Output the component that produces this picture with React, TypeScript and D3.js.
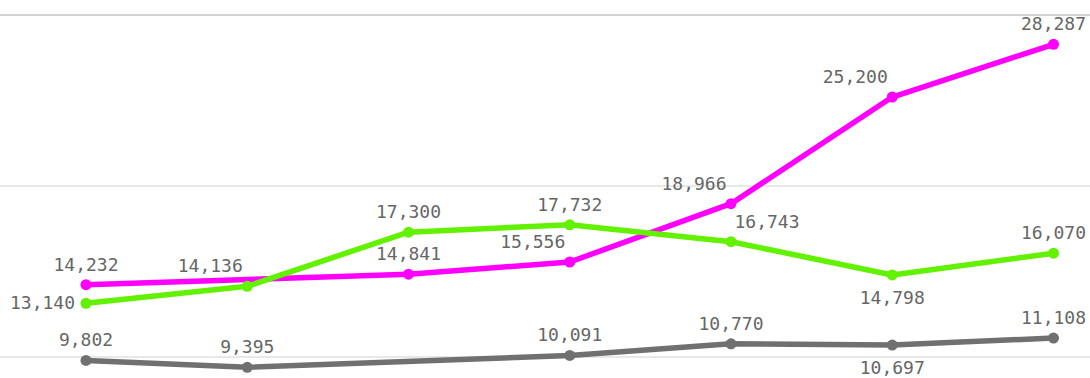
import React from "react";
import * as d3 from "d3";

const categories = ["P1", "P2", "P3", "P4", "P5", "P6", "P7"];
const magentaValues: (number | null)[] = [14232, null, 14841, 15556, 18966, 25200, 28287];
const greenValues: (number | null)[] = [13140, 14136, 17300, 17732, 16743, 14798, 16070];
const grayValues: (number | null)[] = [9802, 9395, null, 10091, 10770, 10697, 11108];
const gridTicks = [10000, 20000, 30000];

// label placement per point
const magentaPlace = ["above", "none", "above", "leftAbove", "leftAbove", "leftAbove", "above"];
const greenPlace = ["left", "leftAbove", "above", "above", "rightAbove", "below", "above"];
const grayPlace = ["above", "above", "none", "above", "above", "below", "above"];

const W = 1090;
const H = 378;

const x = d3.scalePoint<string>().domain(categories).range([86, 1053.5]);
const y = d3.scaleLinear().domain([10000, 30000]).range([357, 15]);
const fmt = d3.format(",");

type S = { values: (number | null)[]; color: string; place: string[] };
const series: S[] = [
  { values: grayValues, color: "#707070", place: grayPlace },
  { values: magentaValues, color: "#ff00ff", place: magentaPlace },
  { values: greenValues, color: "#62f200", place: greenPlace },
];

function labelPos(place: string, px: number, py: number) {
  switch (place) {
    case "leftAbove":
      return { x: px - 37, y: py - 14, anchor: "middle" };
    case "rightAbove":
      return { x: px + 36, y: py - 14, anchor: "middle" };
    case "below":
      return { x: px, y: py + 29, anchor: "middle" };
    case "left":
      return { x: px - 11, y: py + 6, anchor: "end" };
    default:
      return { x: px, y: py - 14, anchor: "middle" };
  }
}

export default function App() {
  const line = d3
    .line<[number, number]>()
    .x((d) => d[0])
    .y((d) => d[1]);
  return (
    <svg
      width={W}
      height={H}
      style={{ position: "absolute", left: 0, top: 0, background: "#fff" }}
    >
      {gridTicks.map((t, i) => (
        <line
          key={t}
          x1={0}
          x2={W}
          y1={y(t)}
          y2={y(t)}
          stroke="#d2d2d2"
          strokeWidth={i === gridTicks.length - 1 ? 2 : 1.2}
        />
      ))}
      {series.map((s, si) => {
        const pts: [number, number][] = [];
        s.values.forEach((v, i) => {
          if (v != null) pts.push([x(categories[i]) as number, y(v)]);
        });
        return (
          <g key={si}>
            <path
              d={line(pts) || ""}
              fill="none"
              stroke={s.color}
              strokeWidth={5.5}
              strokeLinejoin="round"
              strokeLinecap="round"
            />
            {pts.map((p, i) => (
              <circle key={i} cx={p[0]} cy={p[1]} r={5.5} fill={s.color} />
            ))}
          </g>
        );
      })}
      {series.map((s, si) => (
        <g key={"l" + si}>
          {s.values.map((v, i) => {
            if (v == null || s.place[i] === "none") return null;
            const lp = labelPos(s.place[i], x(categories[i]) as number, y(v));
            return (
              <text
                key={i}
                x={lp.x}
                y={lp.y}
                textAnchor={lp.anchor as any}
                fontFamily="'DejaVu Sans Mono', monospace"
                fontSize={18}
                fill="#666"
              >
                {fmt(v)}
              </text>
            );
          })}
        </g>
      ))}
    </svg>
  );
}
